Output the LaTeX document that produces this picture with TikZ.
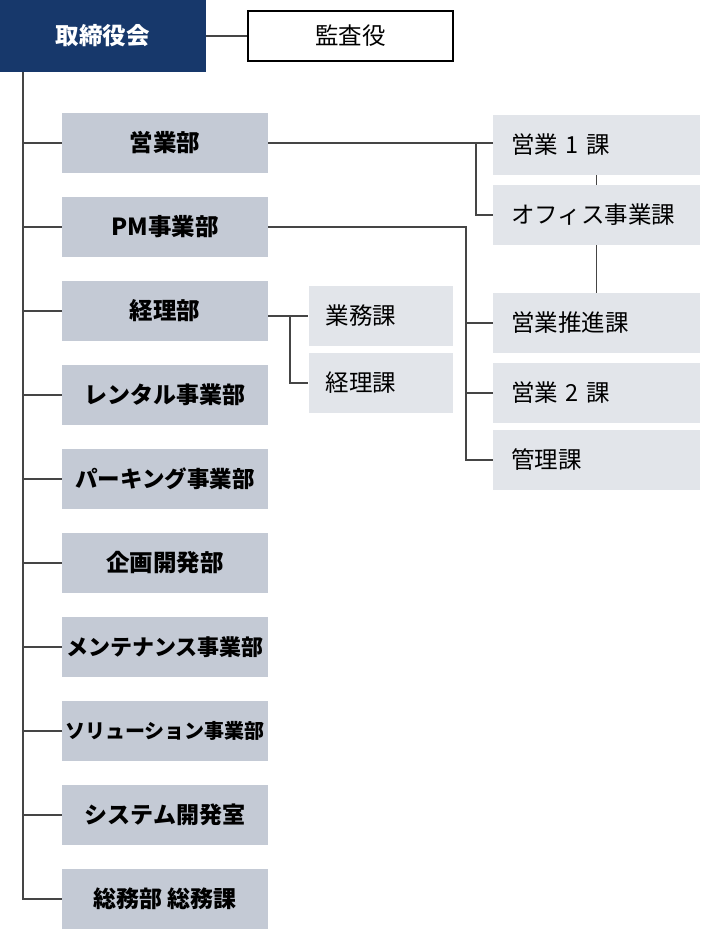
\documentclass[tikz,border=0pt]{standalone}
\usepackage{fontspec}
\setmainfont{Noto Sans CJK JP}
\usetikzlibrary{positioning}
\definecolor{navy}{HTML}{17386B}
\definecolor{deptgray}{HTML}{C4CAD5}
\definecolor{sectgray}{HTML}{E2E5EA}
\definecolor{linegray}{HTML}{454545}

\begin{document}
\begin{tikzpicture}[x=1pt,y=-1pt,
  board/.style={fill=navy, text=white, font=\fontsize{23.5}{26}\selectfont\bfseries,
    minimum width=206pt, minimum height=72pt, inner sep=0pt},
  audit/.style={draw=black, line width=1.5pt, fill=white, font=\fontsize{23.5}{26}\selectfont,
    minimum width=205pt, minimum height=50pt, inner sep=0pt},
  dept/.style={fill=deptgray, minimum width=206pt, minimum height=60pt, inner sep=0pt},
  sect/.style={fill=sectgray, font=\fontsize{23.5}{26}\selectfont,
    text width=171pt, inner xsep=18pt, minimum height=60pt, align=left},
  subsect/.style={sect, text width=110pt, inner xsep=17pt},
  link/.style={draw=linegray, line width=1.6pt}]

\useasboundingbox (0,0) rectangle (701,930);

%% Board of directors and auditor
\node[board] (board) at (103,36) {取締役会};
\node[audit] (audit) at (350.5,36) {監査役};
\draw[link] (board.east) -- (audit.west);

%% Departments, one every 84pt (long names set smaller to fit)
\foreach \name/\fs [count=\i] in {営業部/23.5,PM事業部/23.5,経理部/23.5,
    レンタル事業部/23,パーキング事業部/22.5,企画開発部/23.5,
    メンテナンス事業部/22,ソリューション事業部/20,システム開発室/23,総務部 総務課/23}
  \node[dept, font=\fontsize{\fs}{26}\selectfont\bfseries] (d\i)
    at (165,{143+84*(\i-1)}) {\name};

%% Sections of the sales and PM departments
\node[sect] (s1) at (596.5,145) {営業 1 課};
\node[sect] (s2) at (596.5,215) {オフィス事業課};
\node[sect] (s3) at (596.5,323) {営業推進課};
\node[sect] (s4) at (596.5,393) {営業 2 課};
\node[sect] (s5) at (596.5,460) {管理課};

%% Sections of the accounting department
\node[subsect] (m1) at (380.5,316) {業務課};
\node[subsect] (m2) at (380.5,383) {経理課};

%% Trunk from the board down to the last department
\coordinate (trunk) at (23,72);
\draw[link] (trunk) |- (d10.west);
\foreach \i in {1,...,9}
  \draw[link] (d\i.west) -- (d\i.west -| trunk);

%% Sales department
\coordinate (br1) at (476,143);
\draw[link] (d1.east) -- (s1.west |- d1.east);
\draw[link] (br1) |- (s2.west);
\draw[link] (s1.south) -- (s2.north);
\draw[link] (s2.south) -- (s3.north);

%% PM department
\coordinate (br2) at (466,227);
\draw[link] (d2.east) -- (br2) |- (s5.west);
\draw[link] (br2 |- s3.west) -- (s3.west);
\draw[link] (br2 |- s4.west) -- (s4.west);

%% Accounting department
\coordinate (br3) at (290,316);
\draw[link] (d3.east |- m1.west) -- (m1.west);
\draw[link] (br3) |- (m2.west);

\end{tikzpicture}
\end{document}
